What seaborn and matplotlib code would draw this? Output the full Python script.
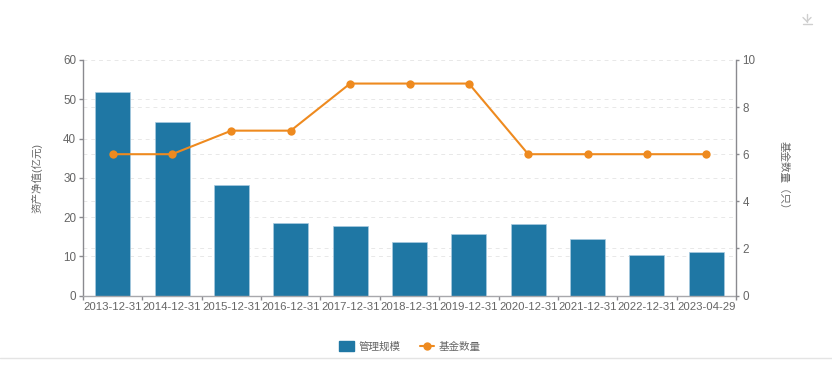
import numpy as np
import pandas as pd
import matplotlib
matplotlib.use('Agg')
import matplotlib.pyplot as plt
from matplotlib.lines import Line2D
from matplotlib.patches import Patch
import seaborn as sns

dates = ['2013-12-31', '2014-12-31', '2015-12-31', '2016-12-31', '2017-12-31', '2018-12-31',
         '2019-12-31', '2020-12-31', '2021-12-31', '2022-12-31', '2023-04-29']
scale = [51.9, 44.3, 28.1, 18.5, 17.7, 13.7, 15.7, 18.3, 14.5, 10.4, 11.0]
counts = [6, 6, 7, 7, 9, 9, 9, 6, 6, 6, 6]
left_ticks = [0, 10, 20, 30, 40, 50, 60]
right_ticks = [0, 2, 4, 6, 8, 10]

blue = '#1f77a4'
orange = '#ee8a1f'
gray = '#666666'
axis_gray = '#8a8a8f'

sns.set_theme(style='white')
plt.rcParams['font.family'] = ['Liberation Sans', 'Noto Sans CJK SC']

df = pd.DataFrame({'date': dates, 'scale': scale, 'count': counts})

W, H = 832, 368
fig = plt.figure(figsize=(W / 100, H / 100), dpi=100)
ax = fig.add_axes([83 / W, 1 - 295.5 / H, (736 - 83) / W, (295.5 - 60) / H])

sns.barplot(data=df, x='date', y='scale', color=blue, saturation=1, width=0.59,
            edgecolor='#a9cbe0', linewidth=0.5, ax=ax, zorder=2)
ax.set_xlim(-0.5, len(dates) - 0.5)
ax.set_ylim(0, 60)
ax.set_xlabel('')
ax.set_ylabel('资产净值(亿元)', fontsize=7.6, color=gray, labelpad=15)

ax2 = ax.twinx()
sns.lineplot(data=df, x='date', y='count', color=orange, linewidth=1.5, marker='o',
             markersize=6, markeredgewidth=0, ax=ax2, zorder=3)
ax2.set_xlim(-0.5, len(dates) - 0.5)
ax2.set_ylim(0, 10)
ax2.set_xlabel('')
ax2.set_ylabel('基金数量（只）', fontsize=7.6, color=gray, rotation=-90, labelpad=24)

# 分隔刻度在柱子之间，标签居中
ax.set_xticks(np.arange(len(dates) + 1) - 0.5)
ax.set_xticklabels([])
ax.set_xticks(np.arange(len(dates)), labels=dates, minor=True)
ax.tick_params(axis='x', which='major', length=3, width=1, color=axis_gray, bottom=True)
ax.tick_params(axis='x', which='minor', length=0, labelsize=8.2, labelcolor=gray, pad=5, bottom=True)

ax.set_yticks(left_ticks)
ax.tick_params(axis='y', length=3, width=1, color=axis_gray, labelsize=8.4, labelcolor=gray, pad=2, left=True)
ax2.set_yticks(right_ticks)
ax2.tick_params(axis='y', length=2.5, width=1, color=axis_gray, labelsize=8.4, labelcolor=gray, pad=2, right=True)

# 两个轴的虚线网格
ax.set_axisbelow(True)
ax.grid(axis='y', color='#e8e8e8', linestyle=(0, (4, 4)), linewidth=0.7)
for t in right_ticks[1:-1]:
    ax.axhline(t * 6, color='#e8e8e8', linestyle=(0, (4, 4)), linewidth=0.7, zorder=0)
ax.set_zorder(ax2.get_zorder() - 1)
ax2.patch.set_visible(False)

for a in (ax, ax2):
    for s in ('top', 'left', 'right', 'bottom'):
        a.spines[s].set_visible(False)
ax.spines['left'].set_visible(True)
ax.spines['bottom'].set_visible(True)
ax2.spines['right'].set_visible(True)
ax.spines['left'].set_color(axis_gray)
ax.spines['bottom'].set_color('#a8a8ac')
ax2.spines['right'].set_color(axis_gray)
for sp in (ax.spines['left'], ax.spines['bottom'], ax2.spines['right']):
    sp.set_linewidth(1)

handles = [Patch(facecolor=blue, edgecolor=blue, label='管理规模'),
           Line2D([], [], color=orange, linewidth=1.5, marker='o', markersize=6,
                  markeredgewidth=0, label='基金数量')]
fig.legend(handles=handles, loc='center', bbox_to_anchor=(410 / W, 1 - 346.5 / H), ncol=2,
           frameon=False, fontsize=7.6, labelcolor=gray, handlelength=1.35, handleheight=0.95,
           handletextpad=0.47, columnspacing=1.8)

# 底部分隔线和下载图标
fig.add_artist(Line2D([0, 1], [1 - 357.5 / H] * 2, color='#e4e4e4', linewidth=1))
icon = '#cfcfcf'
for (x0, y0), (x1, y1) in [((807, 13.5), (807, 21.5)), ((803, 17.5), (807, 21.5)), ((811, 17.5), (807, 21.5)),
                           ((802.5, 24), (811.5, 24))]:
    fig.add_artist(Line2D([x0 / W, x1 / W], [1 - y0 / H, 1 - y1 / H], color=icon, linewidth=1))

fig.savefig('out.png', dpi=100)
